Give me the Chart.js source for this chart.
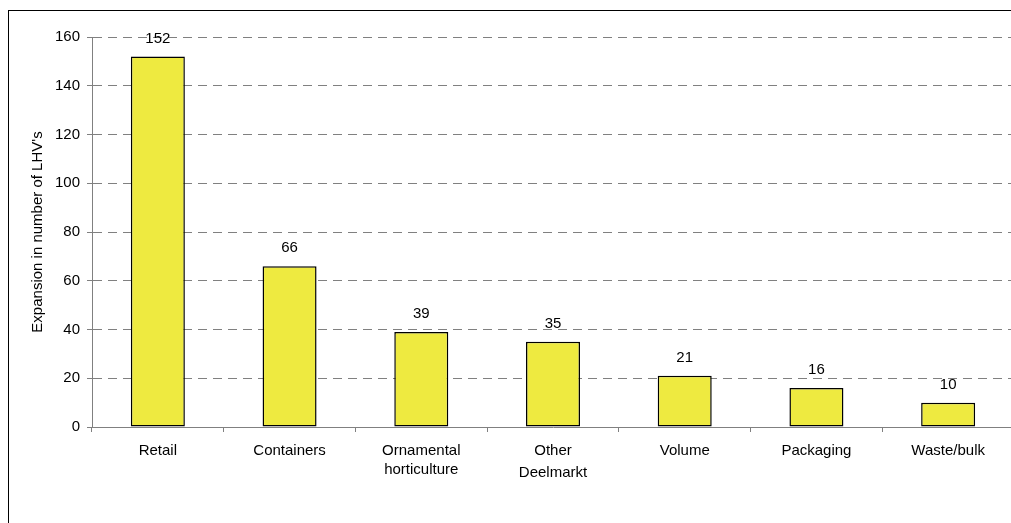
<!DOCTYPE html>
<html>
<head>
<meta charset="utf-8">
<script src="https://cdn.jsdelivr.net/npm/chart.js@4/dist/chart.umd.min.js"></script>
<style>
  html, body { margin: 0; padding: 0; background: #fff; overflow: hidden; }
  #wrap { width: 1014px; height: 523px; }
</style>
</head>
<body>
<div id="wrap"><canvas id="barChart"></canvas></div>
<script>
const categories = ['Retail', 'Containers', ['Ornamental', 'horticulture'], 'Other', 'Volume', 'Packaging', 'Waste/bulk']
const expansion = [152, 66, 39, 35, 21, 16, 10]
const yTicks = [0, 20, 40, 60, 80, 100, 120, 140, 160]

const fontFamily = '"Liberation Sans", Arial, sans-serif'

// draws the value above every bar
const valueLabels = {
  id: 'valueLabels',
  afterDatasetsDraw(chart) {
    let c = chart.ctx
    let meta = chart.getDatasetMeta(0)
    c.save()
    c.font = '15px ' + fontFamily
    c.fillStyle = '#000'
    c.textAlign = 'center'
    c.textBaseline = 'middle'
    meta.data.forEach((bar, i) => {
      c.fillText(String(expansion[i]), bar.x, bar.y - 18)
    })
    c.restore()
  }
}

// outer frame round the whole chart
const frame = {
  id: 'frame',
  afterDraw(chart) {
    let c = chart.ctx
    c.save()
    c.strokeStyle = '#000'
    c.lineWidth = 1
    c.strokeRect(8.5, 10.5, chart.width + 10, chart.height + 10)
    c.restore()
  }
}

let ctx = document.getElementById('barChart')

const chart = new Chart(ctx, {
  type: 'bar',
  data: {
    labels: categories,
    datasets: [{
      data: expansion,
      backgroundColor: '#EEEA40',
      borderColor: '#000',
      borderWidth: 1.5,
      borderSkipped: false,
      categoryPercentage: 1,
      barPercentage: 0.41
    }]
  },
  options: {
    responsive: true,
    maintainAspectRatio: false,
    animation: false,
    layout: { padding: { left: 0, top: 37, right: 0, bottom: 0 } },
    plugins: {
      legend: { display: false },
      tooltip: { enabled: false }
    },
    scales: {
      x: {
        offset: true,
        grid: {
          offset: true,
          drawOnChartArea: false,
          drawTicks: true,
          tickLength: 5,
          color: '#808080'
        },
        border: { color: '#808080', width: 1 },
        ticks: {
          color: '#000',
          font: { family: fontFamily, size: 15, lineHeight: 1.3 },
          padding: 9,
          maxRotation: 0,
          autoSkip: false
        },
        title: {
          display: true,
          text: 'Deelmarkt',
          color: '#000',
          font: { family: fontFamily, size: 15 },
          padding: { top: 0, bottom: 41 }
        },
        afterFit: s => { s.height = 96 }
      },
      y: {
        min: 0,
        max: 160,
        afterBuildTicks: s => { s.ticks = yTicks.map(v => ({ value: v })) },
        grid: {
          color: '#808080',
          tickLength: 5,
          drawTicks: true
        },
        border: { color: '#808080', width: 1, dash: [9, 6] },
        ticks: {
          color: '#000',
          font: { family: fontFamily, size: 15 },
          padding: 7
        },
        title: {
          display: true,
          text: "Expansion in number of LHV's",
          color: '#000',
          font: { family: fontFamily, size: 15 },
          padding: { top: 29, bottom: 0 }
        },
        afterFit: s => { s.width = 92 }
      }
    }
  },
  plugins: [valueLabels, frame]
})
</script>
</body>
</html>
